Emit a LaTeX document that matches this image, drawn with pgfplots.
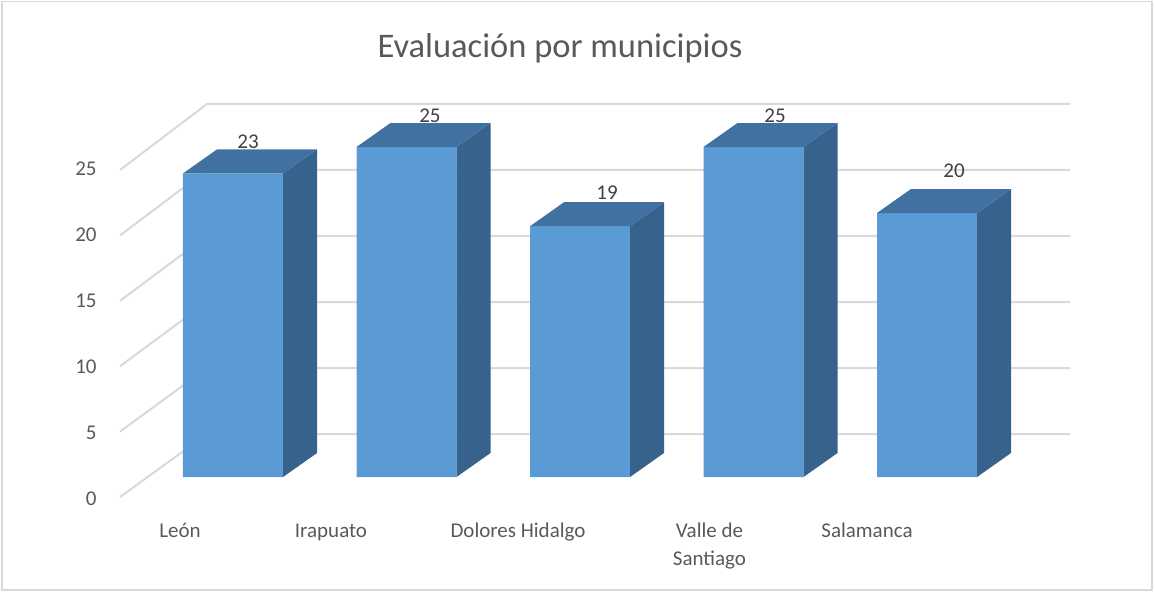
\documentclass[border=0pt]{standalone}
\usepackage{fontspec}
\setmainfont{Carlito}
\usepackage{pgfplots}
\pgfplotsset{compat=1.18}
\definecolor{frontc}{RGB}{91,155,213}
\definecolor{topc}{RGB}{65,113,160}
\definecolor{sidec}{RGB}{54,98,140}
\definecolor{gridc}{RGB}{217,217,217}
\definecolor{borderc}{RGB}{217,217,217}
\definecolor{tickc}{RGB}{89,89,89}
\definecolor{labelc}{RGB}{64,64,64}
\begin{document}
\begin{tikzpicture}
\begin{axis}[
  scale only axis, width=577.5pt, height=296pt,
  xmin=-1.34294, xmax=5.31412, ymin=-8.71212, ymax=36.13636,
  axis line style={draw=none}, tick style={draw=none}, major tick length=0pt,
  clip=false,
  /pgf/number format/assume math mode=true,
  ytick={0,5,10,15,20,25},
  yticklabel style={anchor=east, inner sep=0pt, xshift=48.5pt, yshift=-11.5pt, text=tickc, font=\fontsize{10.5}{14}\selectfont},
  xtick={-0.3055,0.5648,1.6427,2.7464,3.6542},
  xticklabels={León, Irapuato, Dolores Hidalgo, {\strut Valle de\\Santiago}, Salamanca},
  xticklabel style={anchor=north, align=center, inner sep=0pt, yshift=37.3pt, text=tickc, font=\fontsize{10.5}{14}\selectfont},
  typeset ticklabels with strut,
  title={Evaluación por municipios},
  title style={at={(0.48485,0.90372)}, anchor=base, inner sep=0pt, yshift=-6pt, text=tickc, font=\fontsize{17.25}{20}\selectfont},
]
\path (rel axis cs:0,0) rectangle (rel axis cs:1,1);
\draw[borderc, line width=0.75pt] (rel axis cs:0.00173,0.00338) rectangle (rel axis cs:0.9974,0.99747);
% grid: left wall oblique + back wall horizontal
\addplot[gridc, line width=1pt, mark=none] coordinates {(-0.6513,-1.515) (-0.1499,3.258) (4.8242,3.258)};
\addplot[gridc, line width=1pt, mark=none] coordinates {(-0.6513,3.439) (-0.1499,8.258) (4.8242,8.258)};
\addplot[gridc, line width=1pt, mark=none] coordinates {(-0.6513,8.394) (-0.1499,13.258) (4.8242,13.258)};
\addplot[gridc, line width=1pt, mark=none] coordinates {(-0.6513,13.348) (-0.1499,18.258) (4.8242,18.258)};
\addplot[gridc, line width=1pt, mark=none] coordinates {(-0.6513,18.303) (-0.1499,23.258) (4.8242,23.258)};
\addplot[gridc, line width=1pt, mark=none] coordinates {(-0.6513,23.258) (-0.1499,28.258) (4.8242,28.258)};
% front faces
\addplot[ybar, bar width=0.5764, bar shift=0pt, fill=frontc, draw=none] coordinates {(0,23) (1,25) (2,19) (3,25) (4,20)};
% side faces
\addplot[fill=sidec, draw=none, mark=none] coordinates {(0.2882,0) (0.4842,1.818) (0.4842,24.818) (0.2882,23)};
\addplot[fill=sidec, draw=none, mark=none] coordinates {(1.2882,0) (1.4842,1.818) (1.4842,26.818) (1.2882,25)};
\addplot[fill=sidec, draw=none, mark=none] coordinates {(2.2882,0) (2.4842,1.818) (2.4842,20.818) (2.2882,19)};
\addplot[fill=sidec, draw=none, mark=none] coordinates {(3.2882,0) (3.4842,1.818) (3.4842,26.818) (3.2882,25)};
\addplot[fill=sidec, draw=none, mark=none] coordinates {(4.2882,0) (4.4842,1.818) (4.4842,21.818) (4.2882,20)};
% top faces
\addplot[fill=topc, draw=none, mark=none] coordinates {(-0.2882,23) (0.2882,23) (0.4842,24.818) (-0.0922,24.818)};
\addplot[fill=topc, draw=none, mark=none] coordinates {(0.7118,25) (1.2882,25) (1.4842,26.818) (0.9078,26.818)};
\addplot[fill=topc, draw=none, mark=none] coordinates {(1.7118,19) (2.2882,19) (2.4842,20.818) (1.9078,20.818)};
\addplot[fill=topc, draw=none, mark=none] coordinates {(2.7118,25) (3.2882,25) (3.4842,26.818) (2.9078,26.818)};
\addplot[fill=topc, draw=none, mark=none] coordinates {(3.7118,20) (4.2882,20) (4.4842,21.818) (3.9078,21.818)};
% value labels
\addplot[only marks, mark=none, nodes near coords, point meta=explicit symbolic,
  nodes near coords style={anchor=center, inner sep=0pt, text=labelc, font=\fontsize{10.5}{14}\selectfont}]
  coordinates {(0.0865,25.379) [23] (1.1354,27.348) [25] (2.1556,21.515) [19] (3.1239,27.348) [25] (4.1556,23.182) [20]};
\end{axis}
\end{tikzpicture}
\end{document}
